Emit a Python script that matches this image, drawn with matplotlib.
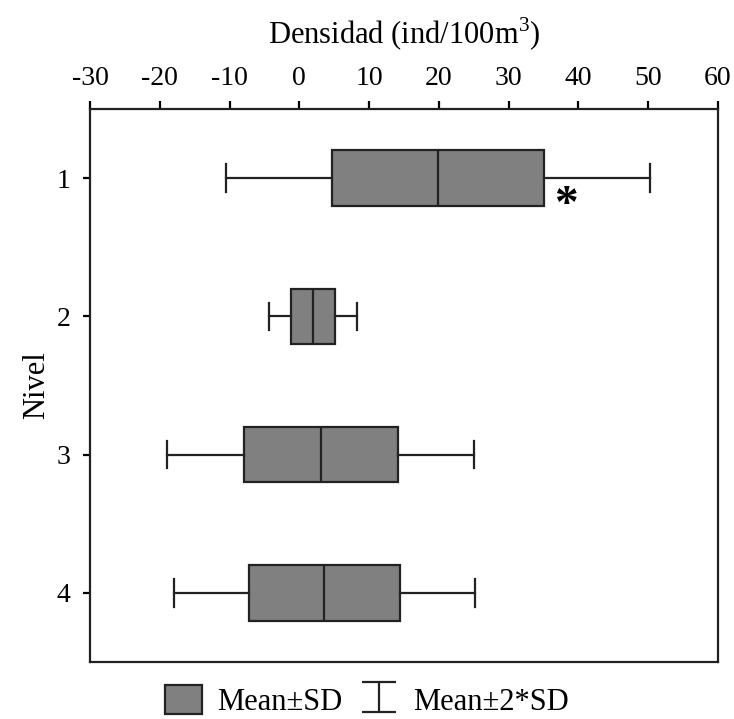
import matplotlib
matplotlib.use("Agg")
import matplotlib.pyplot as plt
from matplotlib.patches import Patch

plt.rcParams['font.family'] = ['Liberation Serif', 'DejaVu Serif']
plt.rcParams['axes.unicode_minus'] = False
plt.rcParams['mathtext.fontset'] = 'custom'
plt.rcParams['mathtext.rm'] = 'Liberation Serif'

# mean and SD per level (box = mean±SD, whiskers = mean±2*SD)
niveles = [1, 2, 3, 4]
medias = [19.9, 1.95, 3.1, 3.6]
desv = [15.2, 3.17, 11.0, 10.8]

stats = []
for n, m, s in zip(niveles, medias, desv):
    stats.append({
        "label": str(n),
        "med": m,
        "q1": m - s,
        "q3": m + s,
        "whislo": m - 2 * s,
        "whishi": m + 2 * s,
        "fliers": [],
    })

fig = plt.figure(figsize=(7.34, 7.19), dpi=100)
ax = fig.add_axes([90 / 734, 1 - 662 / 719, 628 / 734, 553 / 719])

lw = 1.6
ax.bxp(stats, positions=niveles, vert=False, widths=0.4, patch_artist=True,
       showfliers=False,
       boxprops=dict(facecolor="#808080", edgecolor="#222222", linewidth=lw),
       medianprops=dict(color="#222222", linewidth=lw),
       whiskerprops=dict(color="#222222", linewidth=lw),
       capprops=dict(color="#222222", linewidth=lw),
       capwidths=0.2)

# asterisk next to level 1
ax.text(38.2, 1.2, "*", fontsize=34, fontweight="bold", ha="center", va="center")

ax.set_xlim(-30, 60)
ax.set_ylim(4.5, 0.5)
ax.set_xticks(range(-30, 61, 10))
ax.set_yticks(niveles)
ax.set_yticklabels([str(n) for n in niveles])
ax.xaxis.tick_top()
ax.xaxis.set_label_position("top")
ax.tick_params(axis="x", length=6, width=lw, pad=7, labelsize=20)
ax.tick_params(axis="y", length=5, width=lw, pad=9, labelsize=20)
for sp in ax.spines.values():
    sp.set_linewidth(lw)
    sp.set_color("#222222")

ax.set_xlabel("Densidad (ind/100m$^\\mathrm{3}$)", fontsize=22, labelpad=16)
ax.set_ylabel("Nivel", fontsize=22, labelpad=4)

# legend handles
caja = Patch(facecolor="#808080", edgecolor="#222222", linewidth=lw)
eb = ax.errorbar([float("nan")], [float("nan")], yerr=[1], fmt="none",
                 ecolor="#222222", elinewidth=lw, capsize=12, capthick=lw)
fig.legend([caja, eb], ["Mean±SD", "Mean±2*SD"], loc="lower center",
           bbox_to_anchor=(0.5, -0.035), ncol=2, frameon=False, fontsize=22,
           handlelength=1.2, handleheight=1.1, handletextpad=0.5, columnspacing=0.6)

fig.savefig("out.png", dpi=100)
